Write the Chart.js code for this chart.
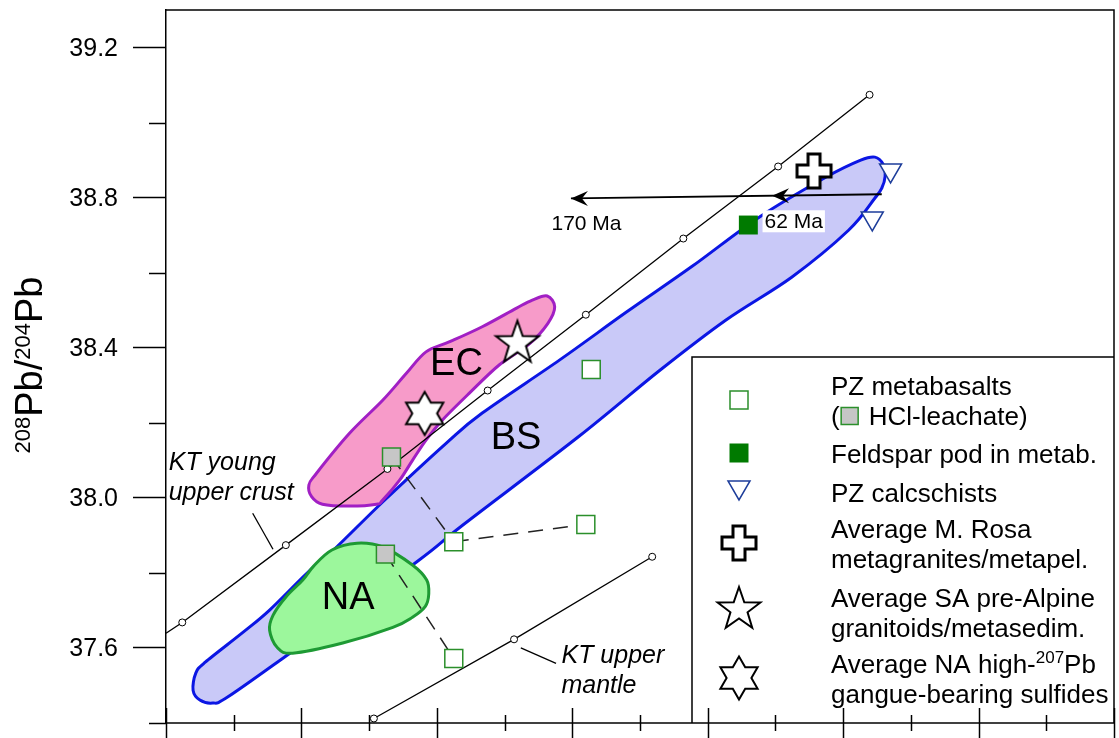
<!DOCTYPE html>
<html>
<head>
<meta charset="utf-8">
<script src="https://cdn.jsdelivr.net/npm/chart.js"></script>
<style>
  html, body { margin: 0; padding: 0; background: #fff; }
  canvas { display: block; }
</style>
</head>
<body>
<canvas id="pbChart" width="1119" height="738"></canvas>
<script>
// ---------- axis ranges and ticks (206Pb/204Pb vs 208Pb/204Pb) ----------
const xRange = [17.6, 19.0];
const yRange = [37.4, 39.3];
const xTicks = [17.6, 17.7, 17.8, 17.9, 18.0, 18.1, 18.2, 18.3, 18.4, 18.5, 18.6, 18.7, 18.8, 18.9, 19.0];
const yMajorTicks = [37.6, 38.0, 38.4, 38.8, 39.2];
const yMinorTicks = [37.4, 37.8, 38.2, 38.6, 39.0];

// ---------- model growth curves (Kramers & Tolstikhin) ----------
const ktCrust = [[17.600, 37.639], [17.624, 37.668], [17.777, 37.874], [17.927, 38.077], [18.075, 38.286],
                 [18.220, 38.488], [18.364, 38.691], [18.504, 38.883], [18.639, 39.074]];
const ktMantle = [[17.907, 37.412], [18.114, 37.623], [18.318, 37.843]];
const ktCrustLeader = [[17.728, 37.959], [17.758, 37.863]];
const ktMantleLeader = [[18.124, 37.600], [18.176, 37.559]];

// ---------- samples ----------
const pzMetabasalts = [[18.228, 38.342], [18.025, 37.883], [18.220, 37.929], [18.025, 37.572]];
const hclLeachates = [[17.933, 38.109], [17.924, 37.850]];
const feldsparPod = [[18.460, 38.727]];
const pzCalcschists = [[18.670, 38.873], [18.643, 38.745]];
const monteRosaAvg = [[18.557, 38.871]];
const saPreAlpineAvg = [[18.119, 38.416]];
const naSulfidesAvg = [[17.982, 38.225]];

// leachate / residue pairs joined by dashed tie lines
const tieLineA = [[17.933, 38.109], [18.025, 37.883]];
const tieLineB = [[18.025, 37.883], [18.220, 37.929]];
const tieLineC = [[17.924, 37.850], [18.025, 37.572]];

// age-correction arrow (62 Ma and 170 Ma)
const ageArrow = [[18.657, 38.809], [18.198, 38.798]];
const ageArrowHeads = [[18.495, 38.805], [18.198, 38.798]];

// ---------- fields ----------
const bsField = [[17.640, 37.487], [17.644, 37.533], [17.658, 37.562], [17.714, 37.642], [17.753, 37.701],
  [17.808, 37.799], [17.852, 37.869], [17.920, 37.989], [18.014, 38.146], [18.067, 38.226], [18.181, 38.367],
  [18.280, 38.495], [18.377, 38.617], [18.476, 38.748], [18.575, 38.855], [18.626, 38.900], [18.647, 38.908],
  [18.659, 38.889], [18.662, 38.857], [18.657, 38.825], [18.647, 38.799], [18.608, 38.713], [18.524, 38.588],
  [18.427, 38.474], [18.328, 38.338], [18.210, 38.164], [18.038, 37.927], [17.970, 37.829], [17.783, 37.586],
  [17.691, 37.469], [17.669, 37.453], [17.650, 37.461]];
const ecField = [[17.811, 38.034], [17.822, 38.065], [17.871, 38.172], [17.920, 38.260], [17.955, 38.332],
  [17.984, 38.389], [18.019, 38.416], [18.067, 38.456], [18.117, 38.505], [18.141, 38.527], [18.163, 38.538],
  [18.174, 38.509], [18.164, 38.465], [18.137, 38.411], [18.092, 38.354], [18.048, 38.279], [18.008, 38.207],
  [17.984, 38.154], [17.964, 38.100], [17.945, 38.047], [17.920, 37.994], [17.911, 37.983], [17.871, 37.978],
  [17.831, 37.983], [17.815, 38.003]];
const naField = [[17.753, 37.647], [17.758, 37.687], [17.778, 37.738], [17.802, 37.781], [17.818, 37.818],
  [17.845, 37.861], [17.882, 37.879], [17.920, 37.869], [17.964, 37.821], [17.985, 37.781], [17.988, 37.743],
  [17.983, 37.711], [17.964, 37.682], [17.935, 37.655], [17.861, 37.613], [17.787, 37.586], [17.764, 37.602]];

// ---------- text annotations ----------
const fieldNames = [['EC', 18.029, 38.354], ['BS', 18.117, 38.158], ['NA', 17.869, 37.732]];
const curveNames = [['KT young', 17.604, 38.093], ['upper crust', 17.604, 38.012],
                    ['KT upper', 18.184, 37.578], ['mantle', 18.184, 37.498]];
const ageNames = [['170 Ma', 18.221, 38.733, false], ['62 Ma', 18.527, 38.737, true]];

// ---------- styling ----------
const FONT = '"Liberation Sans", Arial, Helvetica, sans-serif';
const GREEN = '#2b8f2b';
const NAVY = '#1d3d9a';

function pts(arr) { return arr.map(([x, y]) => ({ x, y })); }

function makeMarker(size, draw) {
  const c = document.createElement('canvas');
  c.width = size; c.height = size;
  const g = c.getContext('2d');
  g.translate(size / 2, size / 2);
  draw(g);
  return c;
}
function starPath(g, n, R, r) {
  g.beginPath();
  for (let i = 0; i < 2 * n; i++) {
    const rad = -Math.PI / 2 + i * Math.PI / n;
    const rr = i % 2 === 0 ? R : r;
    const px = Math.cos(rad) * rr, py = Math.sin(rad) * rr;
    if (i === 0) g.moveTo(px, py); else g.lineTo(px, py);
  }
  g.closePath();
}
const crossImg = makeMarker(48, g => {
  const a = 17, b = 6;
  g.beginPath();
  g.moveTo(-b, -a); g.lineTo(b, -a); g.lineTo(b, -b); g.lineTo(a, -b); g.lineTo(a, b); g.lineTo(b, b);
  g.lineTo(b, a); g.lineTo(-b, a); g.lineTo(-b, b); g.lineTo(-a, b); g.lineTo(-a, -b); g.lineTo(-b, -b);
  g.closePath();
  g.fillStyle = '#fff'; g.fill();
  g.lineWidth = 3; g.lineJoin = 'miter'; g.strokeStyle = '#000'; g.stroke();
});
const star5Img = makeMarker(54, g => {
  g.translate(0, 1.5);
  starPath(g, 5, 22.5, 9);
  g.fillStyle = '#fff'; g.fill();
  g.lineWidth = 2; g.lineJoin = 'miter'; g.strokeStyle = '#000'; g.stroke();
});
const star6Img = makeMarker(52, g => {
  starPath(g, 6, 21.5, 12.4);
  g.fillStyle = '#fff'; g.fill();
  g.lineWidth = 2; g.lineJoin = 'miter'; g.strokeStyle = '#000'; g.stroke();
});

// closed smooth outline through the points (Catmull-Rom as Bezier segments)
function smoothClosed(ctx, p) {
  const n = p.length;
  ctx.beginPath();
  ctx.moveTo(p[0][0], p[0][1]);
  for (let i = 0; i < n; i++) {
    const p0 = p[(i - 1 + n) % n], p1 = p[i], p2 = p[(i + 1) % n], p3 = p[(i + 2) % n];
    ctx.bezierCurveTo(p1[0] + (p2[0] - p0[0]) / 6, p1[1] + (p2[1] - p0[1]) / 6,
                      p2[0] - (p3[0] - p1[0]) / 6, p2[1] - (p3[1] - p1[1]) / 6, p2[0], p2[1]);
  }
  ctx.closePath();
}

const fieldsPlugin = {
  id: 'fields',
  beforeDatasetsDraw(chart) {
    const { ctx, scales: { x, y } } = chart;
    const fields = [
      [bsField, '#c9c9f8', '#0b16e4'],
      [ecField, '#f79bc9', '#a11fc4'],
      [naField, '#9cf79c', '#1e9a34']
    ];
    ctx.save();
    for (const [shape, fill, edge] of fields) {
      const p = shape.map(([vx, vy]) => [x.getPixelForValue(vx), y.getPixelForValue(vy)]);
      smoothClosed(ctx, p);
      ctx.fillStyle = fill; ctx.fill();
      ctx.lineWidth = 3; ctx.lineJoin = 'round'; ctx.strokeStyle = edge; ctx.stroke();
    }
    ctx.restore();
  }
};

function arrowHead(ctx, tx, ty) {
  ctx.beginPath();
  ctx.moveTo(tx, ty);
  ctx.lineTo(tx + 17, ty - 7.5);
  ctx.lineTo(tx + 11, ty);
  ctx.lineTo(tx + 17, ty + 7.5);
  ctx.closePath();
  ctx.fill();
}

const annotationsPlugin = {
  id: 'annotations',
  afterDatasetsDraw(chart) {
    const { ctx, scales: { x, y } } = chart;
    ctx.save();
    ctx.fillStyle = '#000';
    for (const [vx, vy] of ageArrowHeads) arrowHead(ctx, x.getPixelForValue(vx), y.getPixelForValue(vy));

    ctx.textBaseline = 'middle';
    ctx.textAlign = 'center';
    ctx.font = `21px ${FONT}`;
    for (const [t, vx, vy, boxed] of ageNames) {
      const px = x.getPixelForValue(vx), py = y.getPixelForValue(vy);
      if (boxed) {
        const w = ctx.measureText(t).width;
        ctx.fillStyle = '#fff';
        ctx.fillRect(px - w / 2 - 2, py - 11, w + 4, 22);
      }
      ctx.fillStyle = '#000';
      ctx.fillText(t, px, py + 1);
    }

    ctx.font = `38px ${FONT}`;
    for (const [t, vx, vy] of fieldNames) ctx.fillText(t, x.getPixelForValue(vx), y.getPixelForValue(vy));

    ctx.textAlign = 'left';
    ctx.font = `italic 25px ${FONT}`;
    for (const [t, vx, vy] of curveNames) ctx.fillText(t, x.getPixelForValue(vx), y.getPixelForValue(vy));
    ctx.restore();
  }
};

function richText(ctx, x, y, parts, size, supSize, raise) {
  let cx = x;
  for (const [t, sup] of parts) {
    ctx.font = `${sup ? supSize : size}px ${FONT}`;
    ctx.fillText(t, cx, sup ? y - raise : y);
    cx += ctx.measureText(t).width;
  }
  return cx;
}
function richWidth(ctx, parts, size, supSize) {
  let w = 0;
  for (const [t, sup] of parts) { ctx.font = `${sup ? supSize : size}px ${FONT}`; w += ctx.measureText(t).width; }
  return w;
}

const framePlugin = {
  id: 'frame',
  afterDraw(chart) {
    const { ctx, chartArea: a, scales: { x, y } } = chart;
    ctx.save();

    // legend panel
    const lx = 692, ly = 357;
    ctx.fillStyle = '#fff';
    ctx.fillRect(lx, ly, a.right - lx, a.bottom - ly);
    ctx.strokeStyle = '#000';
    ctx.lineWidth = 1.5;
    ctx.beginPath(); ctx.moveTo(lx, a.bottom); ctx.lineTo(lx, ly); ctx.lineTo(a.right, ly); ctx.stroke();

    // top and right frame, bottom axis
    ctx.beginPath(); ctx.moveTo(a.left, a.top); ctx.lineTo(a.right, a.top); ctx.lineTo(a.right, a.bottom); ctx.stroke();
    ctx.beginPath(); ctx.moveTo(a.left, a.bottom); ctx.lineTo(a.right, a.bottom); ctx.stroke();

    // x ticks crossing the axis
    xTicks.forEach((v, i) => {
      const px = Math.round(x.getPixelForValue(v)) + 0.5;
      const major = i % 2 === 0;
      ctx.beginPath();
      ctx.moveTo(px, a.bottom - (major ? 15 : 8));
      ctx.lineTo(px, a.bottom + (major ? 16 : 8));
      ctx.stroke();
    });
    // y minor ticks
    yMinorTicks.forEach(v => {
      const py = Math.round(y.getPixelForValue(v)) + 0.5;
      ctx.beginPath(); ctx.moveTo(a.left - 17, py); ctx.lineTo(a.left, py); ctx.stroke();
    });

    // y title
    ctx.fillStyle = '#000';
    ctx.textBaseline = 'alphabetic';
    ctx.textAlign = 'left';
    const title = [['208', true], ['Pb', false], ['/', false], ['204', true], ['Pb', false]];
    ctx.save();
    ctx.translate(42, 365);
    ctx.rotate(-Math.PI / 2);
    const tw = richWidth(ctx, title, 38, 22);
    richText(ctx, -tw / 2, 0, title, 38, 22, 12);
    ctx.restore();

    // legend entries
    const mx = 739, tx = 831;
    const sq = (cx, cy, s, fill) => {
      ctx.fillStyle = fill; ctx.fillRect(cx - s / 2, cy - s / 2, s, s);
      ctx.strokeStyle = GREEN; ctx.lineWidth = 1.5; ctx.strokeRect(cx - s / 2, cy - s / 2, s, s);
    };
    sq(mx, 400, 18, '#fff');
    ctx.fillStyle = '#007a00'; ctx.fillRect(mx - 9.5, 453 - 9.5, 19, 19);
    ctx.beginPath();
    ctx.moveTo(mx - 11, 481); ctx.lineTo(mx + 11, 481); ctx.lineTo(mx, 500); ctx.closePath();
    ctx.fillStyle = '#fff'; ctx.fill();
    ctx.strokeStyle = NAVY; ctx.lineWidth = 1.5; ctx.stroke();
    ctx.drawImage(crossImg, mx - crossImg.width / 2, 543 - crossImg.height / 2);
    ctx.drawImage(star5Img, mx - star5Img.width / 2, 608 - star5Img.height / 2);
    ctx.drawImage(star6Img, mx - star6Img.width / 2, 678 - star6Img.height / 2);

    ctx.fillStyle = '#000';
    ctx.font = `26px ${FONT}`;
    const rows = [['PZ metabasalts', 385], ['Feldspar pod in metab.', 453], ['PZ calcschists', 492],
                  ['Average M. Rosa', 528], ['metagranites/metapel.', 558], ['Average SA pre-Alpine', 597],
                  ['granitoids/metasedim.', 627], ['gangue-bearing sulfides', 693]];
    for (const [t, cy] of rows) ctx.fillText(t, tx, cy + 9.5);
    // "( ■ HCl-leachate)"
    ctx.fillText('(', tx, 415 + 9.5);
    const pw = ctx.measureText('(').width;
    sq(tx + pw + 10, 416, 17, '#c6c6c6');
    ctx.fillStyle = '#000';
    ctx.font = `26px ${FONT}`;
    ctx.fillText('HCl-leachate)', tx + pw + 29, 415 + 9.5);
    richText(ctx, tx, 663 + 9.5, [['Average NA high-', false], ['207', true], ['Pb', false]], 26, 17, 10);

    ctx.restore();
  }
};

const lineBase = { showLine: true, tension: 0, borderColor: '#000', pointRadius: 0 };

new Chart(document.getElementById('pbChart'), {
  type: 'scatter',
  data: {
    datasets: [
      { label: 'Average NA high-207Pb gangue-bearing sulfides', data: pts(naSulfidesAvg), pointStyle: star6Img, pointRadius: 10 },
      { label: 'Average SA pre-Alpine granitoids/metasedim.', data: pts(saPreAlpineAvg), pointStyle: star5Img, pointRadius: 10 },
      { label: 'Average M. Rosa metagranites/metapel.', data: pts(monteRosaAvg), pointStyle: crossImg, pointRadius: 10 },
      { label: 'PZ calcschists', data: pts(pzCalcschists), pointStyle: 'triangle', rotation: 180, pointRadius: 12.7,
        pointBackgroundColor: '#fff', pointBorderColor: NAVY, pointBorderWidth: 1.5 },
      { label: 'Feldspar pod in metab.', data: pts(feldsparPod), pointStyle: 'rect', pointRadius: 13.4,
        pointBackgroundColor: '#007a00', pointBorderColor: '#007a00', pointBorderWidth: 0 },
      { label: 'HCl-leachate', data: pts(hclLeachates), pointStyle: 'rect', pointRadius: 12.7,
        pointBackgroundColor: '#c6c6c6', pointBorderColor: GREEN, pointBorderWidth: 1.5 },
      { label: 'PZ metabasalts', data: pts(pzMetabasalts), pointStyle: 'rect', pointRadius: 12.7,
        pointBackgroundColor: '#fff', pointBorderColor: GREEN, pointBorderWidth: 1.5 },
      { ...lineBase, label: 'tie A', data: pts(tieLineA), borderWidth: 1.5, borderColor: '#222', borderDash: [15, 10] },
      { ...lineBase, label: 'tie B', data: pts(tieLineB), borderWidth: 1.5, borderColor: '#222', borderDash: [15, 10] },
      { ...lineBase, label: 'tie C', data: pts(tieLineC), borderWidth: 1.5, borderColor: '#222', borderDash: [15, 10] },
      { ...lineBase, label: 'age arrow', data: pts(ageArrow), borderWidth: 1.8 },
      { ...lineBase, label: 'KT young upper crust', data: pts(ktCrust), borderWidth: 1.3,
        pointRadius: ktCrust.map((_, i) => i === 0 ? 0 : 3.5), pointBackgroundColor: '#fff',
        pointBorderColor: '#000', pointBorderWidth: 1 },
      { ...lineBase, label: 'KT upper mantle', data: pts(ktMantle), borderWidth: 1.3,
        pointRadius: 3.5, pointBackgroundColor: '#fff', pointBorderColor: '#000', pointBorderWidth: 1 },
      { ...lineBase, label: 'crust leader', data: pts(ktCrustLeader), borderWidth: 1.3 },
      { ...lineBase, label: 'mantle leader', data: pts(ktMantleLeader), borderWidth: 1.3 }
    ]
  },
  options: {
    responsive: false,
    animation: false,
    devicePixelRatio: 1,
    events: [],
    layout: { autoPadding: false, padding: { top: 10, right: 5, left: 0, bottom: 0 } },
    plugins: { legend: { display: false }, tooltip: { enabled: false } },
    scales: {
      x: {
        type: 'linear', min: xRange[0], max: xRange[1],
        ticks: { display: false },
        grid: { display: false },
        border: { display: false },
        afterFit(s) { s.height = 15; s.paddingLeft = 0; s.paddingRight = 0; }
      },
      y: {
        type: 'linear', min: yRange[0], max: yRange[1],
        afterBuildTicks(s) { s.ticks = yMajorTicks.map(v => ({ value: v })); },
        ticks: {
          color: '#000', padding: 15, labelOffset: 1.5,
          font: { family: FONT, size: 25 },
          callback: v => Number(v).toFixed(1)
        },
        grid: { drawOnChartArea: false, drawTicks: true, tickLength: 33, tickColor: '#000', tickWidth: 1.5 },
        border: { display: true, color: '#000', width: 1.5 },
        afterFit(s) { s.width = 166; s.paddingTop = 0; s.paddingBottom = 0; }
      }
    }
  },
  plugins: [fieldsPlugin, annotationsPlugin, framePlugin]
});
</script>
</body>
</html>
